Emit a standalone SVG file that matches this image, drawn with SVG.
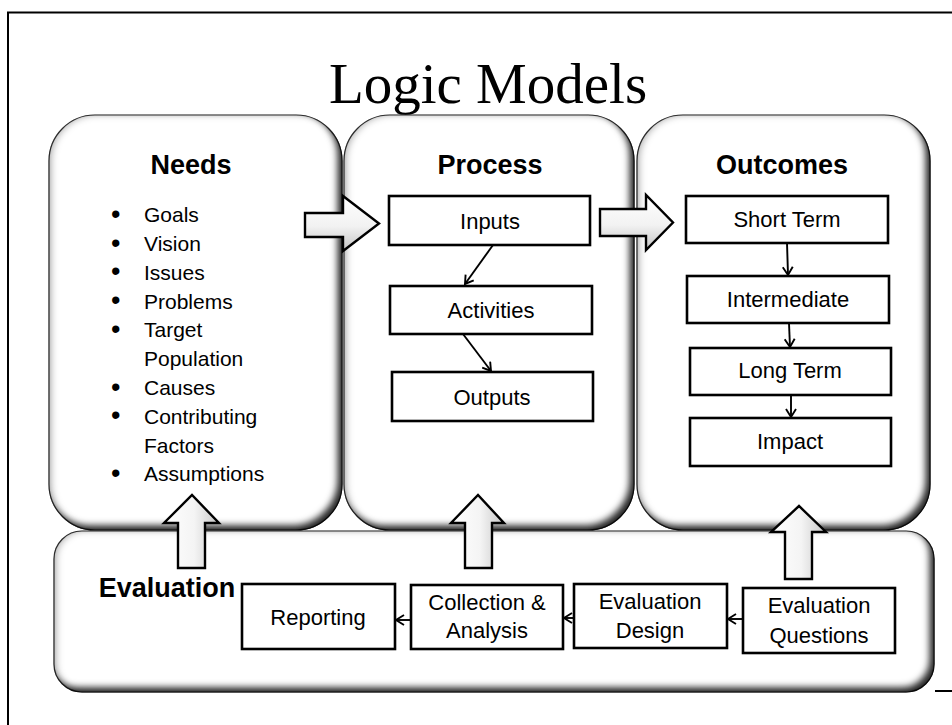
<svg xmlns="http://www.w3.org/2000/svg" width="952" height="725" viewBox="0 0 952 725">
<defs>
  <filter id="bevel" x="-10%" y="-12%" width="120%" height="124%" color-interpolation-filters="sRGB">
    <feComponentTransfer in="SourceAlpha" result="inv"><feFuncA type="table" tableValues="1 0"/></feComponentTransfer>
    <feGaussianBlur in="inv" stdDeviation="3.5" result="blur"/>
    <feOffset in="blur" dx="-5" dy="-5" result="o1"/>
    <feComposite in="o1" in2="SourceAlpha" operator="in" result="s1"/>
    <feFlood flood-color="#000" flood-opacity="0.85"/>
    <feComposite in2="s1" operator="in" result="dark"/>
    <feOffset in="blur" dx="3" dy="0" result="o2"/>
    <feComposite in="o2" in2="SourceAlpha" operator="in" result="s2"/>
    <feFlood flood-color="#000" flood-opacity="0.3"/>
    <feComposite in2="s2" operator="in" result="light"/>
    <feMerge><feMergeNode in="SourceGraphic"/><feMergeNode in="light"/><feMergeNode in="dark"/></feMerge>
  </filter>
  <linearGradient id="gUp" x1="0" y1="0" x2="1" y2="0">
    <stop offset="0" stop-color="#ffffff"/>
    <stop offset="0.55" stop-color="#f4f4f4"/>
    <stop offset="1" stop-color="#c8c8c8"/>
  </linearGradient>
  <linearGradient id="gRight" x1="0" y1="0" x2="0" y2="1">
    <stop offset="0" stop-color="#ffffff"/>
    <stop offset="0.55" stop-color="#f2f2f2"/>
    <stop offset="1" stop-color="#c4c4c4"/>
  </linearGradient>
  <marker id="ah" markerWidth="12" markerHeight="12" refX="10" refY="6" orient="auto" markerUnits="userSpaceOnUse">
    <path d="M2,1 L10,6 L2,11" fill="none" stroke="#000" stroke-width="1.9"/>
  </marker>
  <style>
    .panel{fill:#fff;stroke:#3a3a3a;stroke-width:1.2;filter:url(#bevel)}
    .box{fill:#fff;stroke:#000;stroke-width:2.6}
    .blk{stroke:#000;stroke-width:2.4;stroke-linejoin:miter}
    .t{font-family:"Liberation Sans",Arial,sans-serif;font-size:22px;fill:#000;text-anchor:middle}
    .li{font-family:"Liberation Sans",Arial,sans-serif;font-size:21px;fill:#000}
    .bul{font-size:27px}
    .h{font-family:"Liberation Sans",Arial,sans-serif;font-size:27px;font-weight:bold;fill:#000;text-anchor:middle}
    .title{font-family:"Liberation Serif","Times New Roman",serif;font-size:57px;fill:#000;text-anchor:middle}
    .conn{fill:none;stroke:#000;stroke-width:1.9;marker-end:url(#ah)}
  </style>
</defs>
<rect x="0" y="0" width="952" height="725" fill="#fff"/>
<path d="M8,725 V12.5 H952" fill="none" stroke="#000" stroke-width="2"/>
<line x1="935" y1="691" x2="952" y2="691" stroke="#000" stroke-width="2"/>
<text class="title" x="488" y="103">Logic Models</text>

<g id="evaluation">
  <rect class="panel" x="54" y="531" width="880" height="161" rx="28"/>
  <text class="h" x="167" y="597">Evaluation</text>
</g>
<g id="needs">
  <rect class="panel" x="49" y="115" width="293" height="415" rx="46"/>
  <text class="h" x="191" y="174">Needs</text>
  <g class="li">
    <text class="bul" x="111" y="222.5">•</text><text x="144" y="222">Goals</text>
    <text class="bul" x="111" y="251.5">•</text><text x="144" y="251">Vision</text>
    <text class="bul" x="111" y="280">•</text><text x="144" y="279.5">Issues</text>
    <text class="bul" x="111" y="309">•</text><text x="144" y="308.5">Problems</text>
    <text class="bul" x="111" y="337.5">•</text><text x="144" y="337">Target</text>
    <text x="144" y="366">Population</text>
    <text class="bul" x="111" y="395.5">•</text><text x="144" y="395">Causes</text>
    <text class="bul" x="111" y="424">•</text><text x="144" y="423.5">Contributing</text>
    <text x="144" y="452.5">Factors</text>
    <text class="bul" x="111" y="481.5">•</text><text x="144" y="481">Assumptions</text>
  </g>
</g>
<g id="process">
  <rect class="panel" x="344" y="115" width="290" height="415" rx="46"/>
  <text class="h" x="490" y="174">Process</text>
</g>
<g id="outcomes">
  <rect class="panel" x="637" y="115" width="293" height="415" rx="46"/>
  <text class="h" x="782" y="174">Outcomes</text>
</g>

<g id="inputs"><rect class="box" x="389" y="196" width="201" height="49"/><text class="t" x="490" y="229">Inputs</text></g>
<g id="activities"><rect class="box" x="390" y="286" width="202" height="48"/><text class="t" x="491" y="318">Activities</text></g>
<g id="outputs"><rect class="box" x="392" y="372" width="201" height="49"/><text class="t" x="492" y="405">Outputs</text></g>

<g id="short-term"><rect class="box" x="686" y="196" width="202" height="47"/><text class="t" x="787" y="227">Short Term</text></g>
<g id="intermediate"><rect class="box" x="687" y="276" width="202" height="47"/><text class="t" x="788" y="307">Intermediate</text></g>
<g id="long-term"><rect class="box" x="690" y="348" width="201" height="47"/><text class="t" x="790" y="378">Long Term</text></g>
<g id="impact"><rect class="box" x="690" y="418" width="201" height="48"/><text class="t" x="790" y="449">Impact</text></g>

<g id="reporting"><rect class="box" x="242" y="584" width="153" height="65"/><text class="t" x="318" y="625">Reporting</text></g>
<g id="collection"><rect class="box" x="411" y="585" width="152" height="64"/><text class="t" x="487" y="610">Collection &amp;</text><text class="t" x="487" y="638">Analysis</text></g>
<g id="eval-design"><rect class="box" x="574" y="584" width="153" height="64"/><text class="t" x="650" y="609">Evaluation</text><text class="t" x="650" y="638">Design</text></g>
<g id="eval-questions"><rect class="box" x="743" y="588" width="152" height="65"/><text class="t" x="819" y="613">Evaluation</text><text class="t" x="819" y="643">Questions</text></g>

<g id="connectors">
  <path class="conn" d="M493,245 L465,284"/>
  <path class="conn" d="M463,334 L491,371"/>
  <path class="conn" d="M787,243 L788,275"/>
  <path class="conn" d="M789,323 L790,347"/>
  <path class="conn" d="M791,395 L791,417"/>
  <path class="conn" d="M743,619 L728,619"/>
  <path class="conn" d="M574,618 L564,618"/>
  <path class="conn" d="M411,620 L396,620"/>
  <path class="blk" fill="url(#gRight)" d="M305,213 H343 V196 L379,223.5 L343,251 V237 H305 Z"/>
  <path class="blk" fill="url(#gRight)" d="M600,209 H646 V195 L673,222.5 L646,250 V236 H600 Z"/>
  <path class="blk" fill="url(#gUp)" d="M178,568 V523 H164 L192,495 L219,523 H205 V568 Z"/>
  <path class="blk" fill="url(#gUp)" d="M465,568 V523 H451 L478,495 L504,523 H492 V568 Z"/>
  <path class="blk" fill="url(#gUp)" d="M785,579 V532 H771 L799,506 L826,532 H812 V579 Z"/>
</g>
</svg>
